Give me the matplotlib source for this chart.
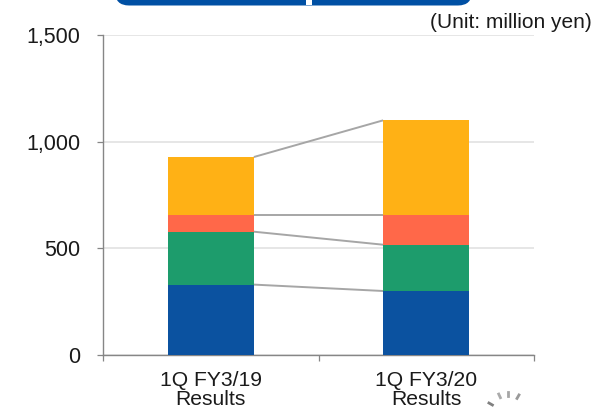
import matplotlib
matplotlib.use("Agg")
import matplotlib.pyplot as plt
import numpy as np
from matplotlib.patches import FancyBboxPatch, Rectangle
from matplotlib.transforms import IdentityTransform

plt.rcParams['font.family'] = ['Liberation Sans', 'DejaVu Sans']

periods = ["1Q FY3/19\nResults", "1Q FY3/20\nResults"]
segment_blue = [330, 300]
segment_green = [248, 217]
segment_red = [78, 139]
segment_yellow = [272, 444]
segment_colors = ["#0B52A0", "#1D9C6C", "#FF6849", "#FFB115"]
y_ticks = [0, 500, 1000, 1500]
text_color = "#1A1A1A"

W, H = 593, 408
fig = plt.figure(figsize=(W / 100, H / 100), dpi=100)
ax = fig.add_axes([103 / W, 1 - 355 / H, 431 / W, 320 / H])

positions = np.array([0.5, 1.5])
bar_width = 0.4
bottom = np.zeros(2)
for values, color in zip([segment_blue, segment_green, segment_red, segment_yellow], segment_colors):
    ax.bar(positions, values, bar_width, bottom=bottom, color=color, zorder=3)
    bottom = bottom + np.array(values)
    # connector between the two stacks
    ax.plot(positions + [bar_width / 2, -bar_width / 2], bottom, color="#A6A6A6", lw=1.4, zorder=2,
            solid_capstyle="butt")

ax.set_xlim(0, 2)
ax.set_ylim(0, 1500)
ax.set_yticks(y_ticks)
ax.set_yticklabels([f"{v:,}" for v in y_ticks], fontsize=15.5, color=text_color)
ax.set_xticks([0, 1, 2])
ax.set_xticklabels([])
ax.set_xticks(positions, minor=True)
ax.set_xticklabels(periods, minor=True, fontsize=15.2, linespacing=0.97, color=text_color)
ax.tick_params(axis="x", which="minor", length=0, pad=11.5)
ax.tick_params(axis="both", which="major", length=4.3, width=0.9, color="#868686")
ax.tick_params(axis="y", pad=12)
ax.yaxis.grid(True, color="#E2E2E2", lw=1.2, zorder=0)
ax.set_axisbelow(True)
for side in ["top", "right"]:
    ax.spines[side].set_visible(False)
for side in ["left", "bottom"]:
    ax.spines[side].set_color("#868686")
    ax.spines[side].set_linewidth(1.0)

fig.text(592 / W, 1 - 28 / H, "(Unit: million yen)", ha="right", va="baseline", fontsize=15, color=text_color)

# title banner, mostly running off the top edge
banner = FancyBboxPatch((115, H - 5.5), 357, 40, boxstyle="round,pad=0,rounding_size=14",
                        transform=IdentityTransform(), facecolor="#0050A4", edgecolor="none")
fig.add_artist(banner)
fig.add_artist(Rectangle((306 / W, 1 - 5 / H), 6 / W, 5 / H, transform=fig.transFigure,
                         facecolor="white", edgecolor="none"))

# loading spinner in the lower corner
spin_angles = np.deg2rad([60, 90, 115, 150])
spin_shades = ["#9A9A9A", "#A6A6A6", "#ABABAB", "#808080"]
for a, shade in zip(spin_angles, spin_shades):
    x0, y0 = 508 + 18 * np.cos(a), 414 - 18 * np.sin(a)
    x1, y1 = 508 + 22 * np.cos(a), 414 - 22 * np.sin(a)
    fig.add_artist(plt.Line2D([x0 / W, x1 / W], [1 - y0 / H, 1 - y1 / H],
                              transform=fig.transFigure, color=shade, lw=2))

fig.savefig("out.png", dpi=100)
